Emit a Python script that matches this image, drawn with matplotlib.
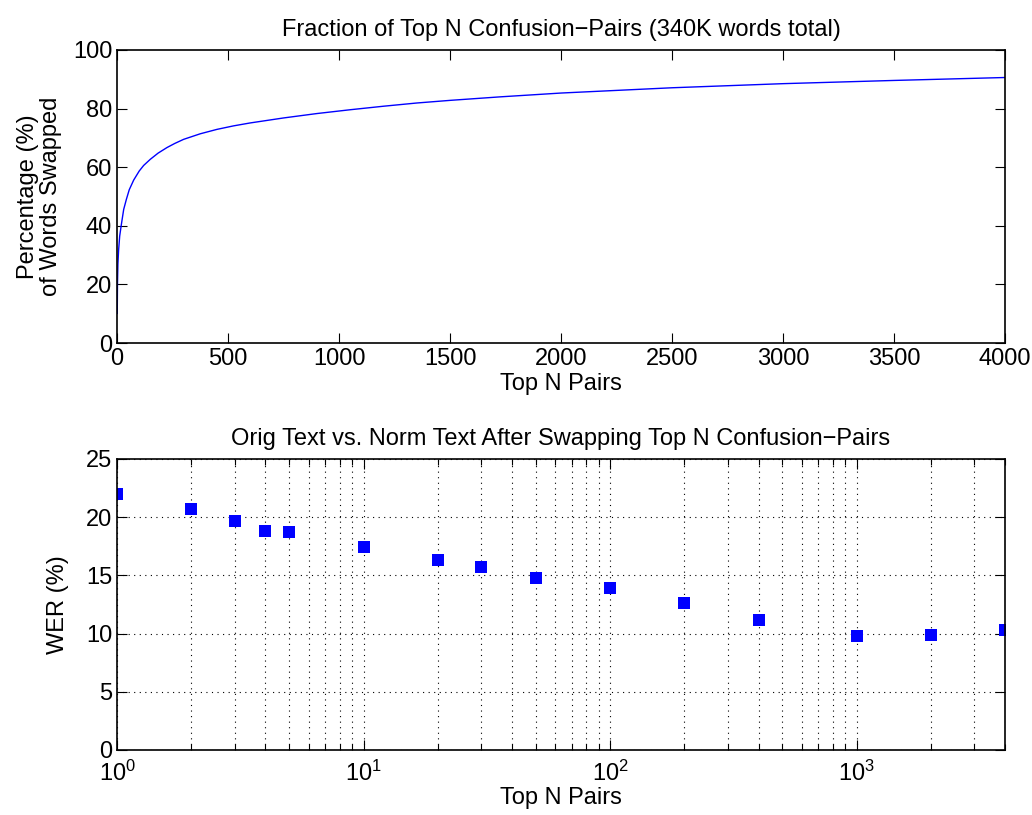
import numpy as np
import matplotlib
matplotlib.use('Agg')
from matplotlib import pyplot as plt
from matplotlib.ticker import LogLocator, NullFormatter

plt.rcParams['font.family'] = ['Liberation Sans', 'DejaVu Sans']
plt.rcParams['mathtext.default'] = 'regular'

# top panel: cumulative fraction of words covered by top N pairs
topN = [1, 2, 4, 7, 12, 19, 30, 42, 55, 75, 100, 120, 150, 185, 225, 260, 300,
        375, 450, 525, 600, 750, 900, 1050, 1200, 1350, 1500, 1726, 2000, 2500,
        3000, 3500, 4000]
pct_swapped = [10.1, 20.0, 27.0, 31.6, 36.5, 40.2, 45.6, 49.0, 52.3, 55.6, 58.7,
               60.6, 62.7, 64.8, 66.7, 68.1, 69.5, 71.4, 72.9, 74.1, 75.1, 76.8,
               78.3, 79.6, 80.8, 81.9, 82.8, 84.0, 85.3, 87.1, 88.5, 89.6, 90.6]

# bottom panel: WER after swapping top N pairs
werN = [1, 2, 3, 4, 5, 10, 20, 30, 50, 100, 200, 400, 1000, 2000, 4000]
wer = [22.0, 20.7, 19.7, 18.8, 18.7, 17.4, 16.3, 15.7, 14.8, 13.9, 12.6, 11.2,
       9.8, 9.9, 10.3]

fs = 17

fig = plt.figure(figsize=(10.32, 8.15), dpi=100)

ax1 = fig.add_axes([0.1134, 0.5791, 0.8605, 0.3596])
ax1.plot(topN, pct_swapped, color='#0000ff', lw=1.0)
ax1.set_xlim(0, 4000)
ax1.set_ylim(0, 100)
ax1.set_xticks(np.arange(0, 4001, 500))
ax1.set_yticks(np.arange(0, 101, 20))
ax1.set_title('Fraction of Top N Confusion\u2212Pairs (340K words total)', fontsize=fs, pad=10)
ax1.set_xlabel('Top N Pairs', fontsize=fs, labelpad=2)
ax1.set_ylabel('Percentage (%)\nof Words Swapped', fontsize=fs, labelpad=8, linespacing=1.05)

ax2 = fig.add_axes([0.1134, 0.0798, 0.8605, 0.3571])
ax2.semilogx(werN, wer, 's', color='#0000ff', markersize=8, markeredgewidth=0)
ax2.set_xlim(1, 4000)
ax2.set_ylim(0, 25)
ax2.set_yticks(np.arange(0, 26, 5))
ax2.xaxis.set_major_locator(LogLocator(base=10, numticks=10))
ax2.xaxis.set_minor_locator(LogLocator(base=10, subs=np.arange(2, 10), numticks=20))
ax2.xaxis.set_minor_formatter(NullFormatter())
ax2.grid(True, which='major', ls=(0, (1, 4)), color='k', lw=0.8)
ax2.grid(True, which='minor', axis='x', ls=(0, (1, 4)), color='k', lw=0.8)
ax2.set_title('Orig Text vs. Norm Text After Swapping Top N Confusion\u2212Pairs', fontsize=fs, pad=10)
ax2.set_xlabel('Top N Pairs', fontsize=fs)
ax2.xaxis.set_label_coords(0.5, -0.128)
ax2.set_ylabel('WER (%)', fontsize=fs, labelpad=12)

for ax in (ax1, ax2):
    ax.tick_params(which='both', direction='in', top=True, right=True, labelsize=fs)
    ax.tick_params(which='major', length=7, width=0.8)
    ax.tick_params(which='minor', length=4, width=0.8)
    for s in ax.spines.values():
        s.set_linewidth(1.2)
ax2.tick_params(axis='x', which='major', pad=8)

fig.savefig('out.png', dpi=100)
